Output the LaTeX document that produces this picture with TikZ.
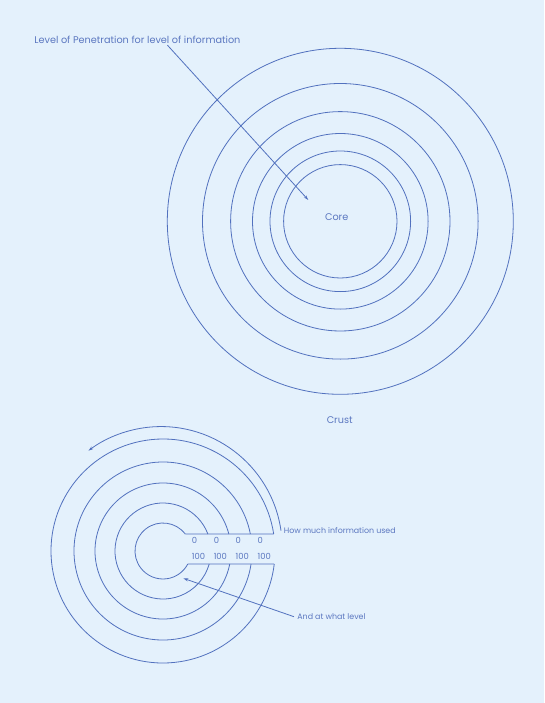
\documentclass[tikz,border=0pt]{standalone}
\usepackage{fontspec}
\setmainfont{Poppins}
\usetikzlibrary{arrows.meta}
\definecolor{ink}{HTML}{5271BE}
\definecolor{inktext}{HTML}{5B77C0}
\definecolor{paper}{HTML}{E4F1FC}
\begin{document}
\begin{tikzpicture}[x=1pt,y=-1pt,line width=0.8pt,
	every node/.style={text=inktext,inner sep=1pt},
	ring/.style={draw=ink},
	pointer/.style={draw=ink,-{Stealth[length=5pt,width=3pt]}},
	small/.style={font=\fontsize{7.9}{9}\selectfont},
	digits/.style={font=\fontsize{8.4}{9}\selectfont},
	big/.style={font=\fontsize{9.7}{11}\selectfont}]
	\fill[paper] (0,0) rectangle (544,703);
	\useasboundingbox (0,0) rectangle (544,703);
%	\coordinate (    ) at (x px, y px);
	\coordinate (top) at (340.3,221.3);
	\coordinate (low) at (163,551);
	\coordinate (coretip) at (308.3,200);
	\coordinate (leveltip) at (183.3,578.3);

	\foreach \r in {56.7,70.3,87.8,109.7,137.8,173}
		\draw[ring] (top) circle (\r);

	\node[big] (core) at (336.7,217.5) {Core};
	\node[big] (crust) at (339.7,420) {Crust};
	\node[big,anchor=west] (lvl) at (33,40) {Level of Penetration for level of information};
	\draw[pointer] ([xshift=30pt]lvl.south) -- (coretip);

	\foreach \r in {28,48,68,89,112}
		\draw[ring] (low) ++({-asin(17/\r)}:\r) arc[start angle={-asin(17/\r)}, end angle={asin(13/\r)-360}, radius=\r];
	\path (low) ++({-asin(17/28)}:28) coordinate (u0);
	\path (low) ++({-asin(17/112)}:112) coordinate (u1);
	\path (low) ++({asin(13/28)}:28) coordinate (d0);
	\path (low) ++({asin(13/112)}:112) coordinate (d1);
	\draw[ring] (u0) -- (u1);
	\draw[ring] (d0) -- (d1);

	\foreach \i in {0,1,2,3}{
		\node[digits] (zero\i) at (194.5+21.9*\i,540.7) {0};
		\node[digits] (full\i) at (198.5+21.9*\i,556.7) {100};
	}

	\node[small,anchor=west,inner sep=2.5pt] (used) at (281,530.7) {How much information used};
	\draw[pointer] (used.west) arc[start angle=-8.1, end angle=-126.8, radius=121.2];
	\node[small,anchor=west,inner sep=3pt] (what) at (294,616.7) {And at what level};
	\draw[pointer] (what.west) -- (leveltip);
\end{tikzpicture}
\end{document}
